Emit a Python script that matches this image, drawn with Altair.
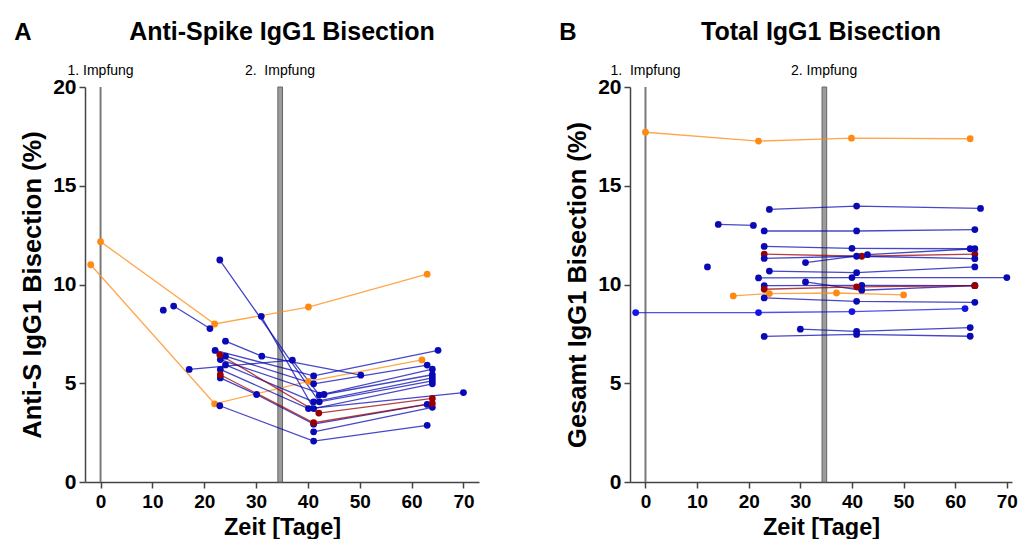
import altair as alt
import pandas as pd

FONT = "Liberation Sans, Arial, Helvetica, sans-serif"

# ---------------- Panel A: Anti-Spike IgG1 Bisection ----------------
# (series id, group, days, values)
A_series = [
    ("O1", "orange", [-1.9, 22.0, 40.1, 62.0], [11.0, 3.96, 5.09, 6.18]),
    ("O2", "orange", [0.0, 22.0, 40.1, 63.0], [12.17, 8.0, 8.86, 10.52]),
    ("S1", "blue", [12.1], [8.70]),
    ("S2", "blue", [14.1, 21.1], [8.91, 7.77]),
    ("S3", "blue", [23.0, 42.2, 64.0], [11.24, 4.06, 5.12]),
    ("S4", "blue", [31.0, 41.1, 64.0], [8.39, 3.72, 4.97]),
    ("S5", "blue", [24.1, 31.1, 50.2], [7.13, 6.37, 5.41]),
    ("S6", "blue", [17.1, 37.0, 42.2, 64.0], [5.70, 6.17, 4.40, 5.71]),
    ("S7", "blue", [22.1, 41.1, 65.1], [6.66, 5.37, 6.67]),
    ("S8", "blue", [24.1, 41.1, 63.0], [6.37, 4.97, 5.92]),
    ("S9", "blue", [23.1, 43.1, 64.0], [6.20, 4.43, 5.43]),
    ("S10", "blue", [24.1, 41.1, 64.0], [5.93, 4.06, 5.27]),
    ("S11", "blue", [23.1, 40.1, 70.0], [5.70, 3.72, 4.53]),
    ("S12", "blue", [23.1, 30.1, 41.1, 63.0], [5.27, 4.43, 2.93, 3.93]),
    ("S13", "blue", [23.0, 41.1, 63.0], [3.86, 2.07, 2.87]),
    ("S14", "blue", [41.1, 64.0], [2.54, 3.78]),
    ("R1", "red", [23.0, 42.1, 64.0], [6.44, 3.49, 4.23]),
    ("R2", "red", [23.1, 41.1, 64.0], [5.43, 3.00, 3.98]),
]

# ---------------- Panel B: Total IgG1 Bisection ----------------
B_series = [
    ("P1", "orange", [0.0, 21.9, 39.9, 62.9], [17.71, 17.26, 17.41, 17.38]),
    ("P2", "blue", [14.1, 20.9], [13.04, 12.99]),
    ("P3", "blue", [24.0, 40.9, 64.9], [13.80, 13.97, 13.85]),
    ("P4", "blue", [23.0, 40.9, 63.8], [12.71, 12.71, 12.78]),
    ("P5", "blue", [23.0, 40.0, 62.9], [11.93, 11.83, 11.81]),
    ("P6", "red", [23.0, 41.9, 63.8], [11.54, 11.43, 11.54]),
    ("P7", "blue", [23.0, 40.9, 63.8], [11.32, 11.43, 11.31]),
    ("P8", "blue", [31.0, 43.0, 63.8], [11.11, 11.51, 11.81]),
    ("P9", "blue", [12.0], [10.89]),
    ("P10", "blue", [24.0, 40.9, 63.8], [10.68, 10.60, 10.89]),
    ("P11", "blue", [21.9, 40.0, 70.0], [10.33, 10.35, 10.35]),
    ("P12", "blue", [31.0, 41.9, 63.8], [10.13, 9.71, 9.94]),
    ("P13", "blue", [23.0, 41.9, 63.8], [9.94, 9.96, 9.94]),
    ("P14", "red", [23.0, 40.9, 63.8], [9.76, 9.88, 9.94]),
    ("P15", "orange", [17.0, 24.0, 37.0, 50.0], [9.42, 9.54, 9.57, 9.47]),
    ("P16", "blue", [23.0, 40.9, 63.8], [9.32, 9.15, 9.10]),
    ("P17", "bright", [-1.9, 21.9, 40.0, 61.9], [8.58, 8.58, 8.63, 8.78]),
    ("P18", "blue", [30.0, 40.9, 62.9], [7.74, 7.63, 7.82]),
    ("P19", "blue", [23.0, 40.9, 62.9], [7.37, 7.47, 7.38]),
]

first_dose = [0.0]
second_dose = [34.2, 35.1]
x_ticks = list(range(0, 71, 5))
y_ticks = [0, 5, 10, 15, 20]

groups = ["blue", "bright", "orange", "red"]
group_colors = ["#0a0ab4", "#1414e8", "#ff8a12", "#9b0000"]

H = 395


def to_df(series):
    rows = []
    for sid, grp, days, vals in series:
        for d, v in zip(days, vals):
            rows.append({"sid": sid, "grp": grp, "day": d, "val": v})
    return pd.DataFrame(rows)


def panel(series, title, ytitle, letter, lab1, lab2, xmax, width):
    df = to_df(series)
    xs = alt.Scale(domain=[-3, xmax], nice=False, zero=False)
    ys = alt.Scale(domain=[0, 20], nice=False, zero=False)
    cs = alt.Scale(domain=groups, range=group_colors)

    xaxis = alt.Axis(
        values=x_ticks, labelExpr="datum.value % 10 == 0 ? datum.label : ''",
        grid=False, tickSize=6, tickColor="#444", domainColor="#444",
        domainWidth=1.5, tickWidth=1.5,
        labelFont=FONT, labelFontSize=19, labelFontWeight="bold", labelColor="black",
        labelPadding=4, title="Zeit [Tage]", titleFont=FONT, titleFontSize=23.5,
        titleFontWeight="bold", titleColor="black", titlePadding=4, labelFlush=False,
    )
    yaxis = alt.Axis(
        values=y_ticks, grid=False, tickSize=6, tickColor="#444", domainColor="#444",
        domainWidth=1.5, tickWidth=1.5,
        labelFont=FONT, labelFontSize=21, labelFontWeight="bold", labelColor="black",
        labelPadding=3, title=ytitle, titleFont=FONT, titleFontSize=25.5,
        titleFontWeight="bold", titleColor="black", titlePadding=7,
    )

    base = alt.Chart(df)
    lines = base.mark_line(strokeWidth=1.3, opacity=0.75).encode(
        x=alt.X("day:Q", scale=xs, axis=xaxis),
        y=alt.Y("val:Q", scale=ys, axis=yaxis),
        color=alt.Color("grp:N", scale=cs, legend=None),
        detail="sid:N",
        order="day:Q",
    )
    pts = base.mark_circle(size=46, opacity=1).encode(
        x=alt.X("day:Q", scale=xs),
        y=alt.Y("val:Q", scale=ys),
        color=alt.Color("grp:N", scale=cs, legend=None),
    )
    r1 = alt.Chart(pd.DataFrame({"day": first_dose})).mark_rule(
        color="#7a7a7a", strokeWidth=2
    ).encode(x=alt.X("day:Q", scale=xs))
    r2 = alt.Chart(pd.DataFrame({"a": [second_dose[0]], "b": [second_dose[1]]})).mark_rect(
        fill="#9c9c9c", stroke="#666666", strokeWidth=1
    ).encode(x=alt.X("a:Q", scale=xs), x2="b:Q", y=alt.value(0), y2=alt.value(H))
    ann = alt.Chart(pd.DataFrame({"day": [0.0, 34.6], "label": [lab1, lab2]})).mark_text(
        font=FONT, fontSize=14, baseline="alphabetic", align="center", color="black"
    ).encode(x=alt.X("day:Q", scale=xs), y=alt.value(-12), text="label:N")
    ttl = alt.Chart(pd.DataFrame({"t": [title]})).mark_text(
        font=FONT, fontSize=25, fontWeight="bold", baseline="alphabetic", align="center", color="black"
    ).encode(x=alt.value(width / 2), y=alt.value(-47), text="t:N")
    let = alt.Chart(pd.DataFrame({"t": [letter]})).mark_text(
        font=FONT, fontSize=24, fontWeight="bold", baseline="alphabetic", align="center", color="black"
    ).encode(x=alt.value(-62), y=alt.value(-47), text="t:N")

    return alt.layer(r1, r2, lines, pts, ann, ttl, let).properties(width=width, height=H)


pA = panel(A_series, "Anti-Spike IgG1 Bisection", "Anti-S IgG1 Bisection (%)", "A",
           "1. Impfung", "2.\u00a0 Impfung", 73, 394)
pB = panel(B_series, "Total IgG1 Bisection", "Gesamt IgG1 Bisection (%)", "B",
           "1.\u00a0 Impfung", "2. Impfung", 71, 382)

chart = alt.hconcat(pA, pB, spacing=80).properties(
    padding={"left": 6, "top": 12, "right": 0, "bottom": 0}
).configure_view(stroke=None)

chart.save("out.html", embed_options={"renderer": "svg", "actions": False})
